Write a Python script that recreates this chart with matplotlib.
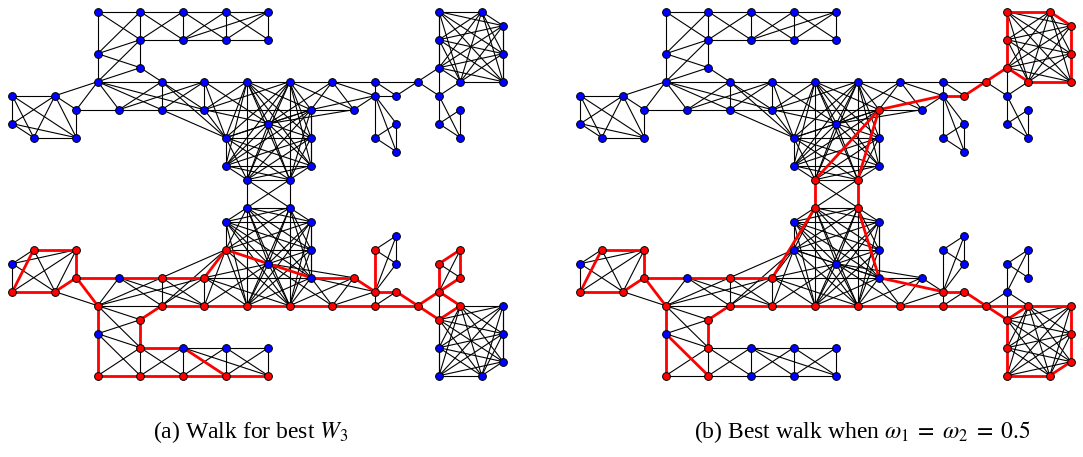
import matplotlib
matplotlib.use("Agg")
import matplotlib.pyplot as plt

plt.rcParams['font.family'] = ['Liberation Serif', 'DejaVu Serif']
plt.rcParams['mathtext.fontset'] = 'stix'

# nodes of the upper half as (column, row); the lower half is its mirror image (row -> 26 - row)
top_nodes = [(4, 0), (6, 0), (8, 0), (10, 0), (12, 0), (6, 2), (8, 2), (10, 2), (12, 2),
             (4, 3), (6, 4), (4, 5),
             (0, 6), (2, 6), (0, 8), (1, 9), (3, 9), (3, 7),
             (5, 7), (7, 5), (7, 7), (9, 5), (9, 7),
             (11, 5), (13, 5), (14, 7), (12, 8), (10, 9), (14, 9), (10, 11), (14, 11), (11, 12), (13, 12),
             (15, 5), (16, 7), (17, 5), (17, 6), (18, 6), (19, 5),
             (17, 9), (18, 8), (18, 10),
             (20, 6), (21, 7), (20, 8), (21, 9),
             (20, 0), (22, 0), (23, 1), (20, 2), (23, 3), (20, 4), (21, 5), (23, 5)]

top_edges = [
    # upper corridor
    ((4, 0), (6, 0)), ((6, 0), (8, 0)), ((8, 0), (10, 0)), ((10, 0), (12, 0)),
    ((6, 2), (8, 2)), ((8, 2), (10, 2)), ((10, 2), (12, 2)),
    ((4, 0), (4, 3)), ((4, 3), (4, 5)), ((6, 0), (6, 2)), ((8, 0), (8, 2)), ((10, 0), (10, 2)),
    ((12, 0), (12, 2)), ((6, 2), (6, 4)),
    ((4, 0), (6, 2)), ((6, 0), (4, 3)), ((6, 0), (8, 2)), ((8, 0), (6, 2)), ((8, 0), (10, 2)),
    ((8, 2), (10, 0)), ((8, 2), (12, 0)), ((10, 0), (12, 2)), ((10, 2), (12, 0)),
    ((4, 3), (6, 2)), ((4, 3), (6, 4)), ((4, 5), (6, 2)), ((4, 5), (6, 4)), ((6, 4), (7, 5)),
    # left room
    ((0, 6), (2, 6)), ((0, 6), (0, 8)), ((0, 6), (1, 9)), ((0, 6), (3, 9)), ((2, 6), (0, 8)),
    ((2, 6), (1, 9)), ((2, 6), (3, 9)), ((0, 8), (1, 9)), ((0, 8), (3, 9)), ((1, 9), (3, 9)),
    ((3, 7), (3, 9)), ((2, 6), (3, 7)), ((2, 6), (4, 5)),
    # long corridor, left part
    ((3, 7), (5, 7)), ((5, 7), (7, 7)), ((7, 7), (9, 7)), ((4, 5), (3, 7)), ((4, 5), (5, 7)),
    ((4, 5), (7, 5)), ((4, 5), (7, 7)), ((4, 5), (9, 7)), ((5, 7), (7, 5)), ((5, 7), (9, 5)),
    ((7, 5), (7, 7)), ((7, 5), (9, 5)), ((7, 5), (9, 7)), ((7, 7), (9, 5)), ((7, 5), (10, 9)),
    ((7, 7), (10, 9)), ((9, 5), (9, 7)), ((9, 5), (11, 5)), ((9, 5), (10, 9)), ((9, 5), (12, 8)),
    ((9, 7), (10, 9)), ((9, 7), (11, 5)), ((9, 7), (12, 8)), ((9, 7), (14, 7)), ((9, 7), (13, 5)),
    # long corridor, right part
    ((13, 5), (15, 5)), ((15, 5), (17, 5)), ((17, 5), (19, 5)), ((15, 5), (14, 7)), ((15, 5), (16, 7)),
    ((15, 5), (12, 8)), ((15, 5), (17, 6)), ((14, 7), (16, 7)), ((16, 7), (17, 6)), ((14, 7), (17, 6)),
    ((13, 5), (16, 7)), ((12, 8), (16, 7)), ((17, 5), (17, 6)), ((17, 6), (18, 6)), ((17, 5), (18, 6)),
    ((18, 6), (19, 5)),
    ((17, 6), (17, 9)), ((17, 6), (18, 8)), ((17, 6), (18, 10)), ((17, 9), (18, 8)), ((17, 9), (18, 10)),
    ((18, 8), (18, 10)),
    ((19, 5), (20, 4)), ((19, 5), (20, 6)), ((20, 4), (20, 6)), ((20, 6), (20, 8)), ((20, 6), (21, 9)),
    ((20, 8), (21, 7)), ((20, 8), (21, 9)), ((21, 7), (21, 9)), ((20, 6), (21, 5)),
]

# rooms where every pair of nodes is linked
top_cliques = [
    [(11, 5), (13, 5), (14, 7), (12, 8), (10, 9), (14, 9), (10, 11), (14, 11), (11, 12), (13, 12)],
    [(20, 0), (22, 0), (23, 1), (20, 2), (23, 3), (20, 4), (21, 5), (23, 5)],
]

# links between the two halves
middle_edges = [((11, 12), (11, 14)), ((13, 12), (13, 14)), ((11, 12), (13, 14)), ((13, 12), (11, 14))]

# walk of panel (a)
walk_a_edges = [((1, 17), (3, 17)), ((1, 17), (0, 20)), ((0, 20), (2, 20)), ((2, 20), (3, 19)),
                ((3, 17), (3, 19)), ((3, 19), (7, 19)), ((7, 19), (9, 19)), ((3, 19), (4, 21)),
                ((4, 21), (4, 26)), ((4, 26), (6, 26)), ((6, 26), (8, 26)), ((8, 26), (10, 26)),
                ((10, 26), (12, 26)), ((6, 24), (6, 22)), ((6, 22), (7, 21)), ((6, 24), (8, 24)),
                ((8, 24), (10, 26)), ((7, 21), (9, 21)), ((9, 21), (11, 21)), ((11, 21), (13, 21)),
                ((13, 21), (15, 21)), ((15, 21), (17, 21)), ((17, 21), (19, 21)),
                ((9, 19), (10, 17)), ((10, 17), (14, 19)), ((14, 19), (16, 19)), ((16, 19), (17, 20)),
                ((17, 20), (17, 17)), ((17, 20), (18, 20)), ((18, 20), (19, 21)), ((19, 21), (20, 20)),
                ((19, 21), (20, 22)), ((20, 20), (21, 19)), ((20, 20), (20, 18)), ((20, 18), (21, 17)),
                ((21, 17), (21, 19)), ((20, 20), (21, 21)), ((21, 21), (20, 22))]
walk_a_nodes = [(1, 17), (3, 17), (0, 20), (2, 20), (3, 19), (7, 19), (9, 19), (10, 17), (4, 21),
                (7, 21), (9, 21), (11, 21), (13, 21), (15, 21), (17, 21), (19, 21), (6, 22), (6, 24),
                (4, 26), (6, 26), (8, 26), (10, 26), (12, 26), (16, 19), (17, 17), (17, 20), (18, 20),
                (20, 18), (21, 17), (21, 19), (20, 20), (21, 21), (20, 22)]

# walk of panel (b)
walk_b_edges = [((1, 17), (3, 17)), ((1, 17), (0, 20)), ((0, 20), (2, 20)), ((2, 20), (3, 19)),
                ((3, 17), (3, 19)), ((3, 19), (9, 19)), ((3, 19), (4, 21)), ((4, 21), (4, 26)),
                ((4, 23), (6, 26)), ((6, 22), (6, 24)), ((6, 22), (7, 21)),
                ((7, 21), (9, 21)), ((9, 21), (11, 21)), ((11, 21), (13, 21)), ((13, 21), (15, 21)),
                ((15, 21), (17, 21)), ((17, 21), (19, 21)), ((19, 21), (20, 22)), ((19, 21), (21, 21)),
                ((9, 19), (11, 14)), ((11, 14), (11, 12)), ((13, 14), (13, 12)), ((11, 12), (14, 7)),
                ((13, 12), (14, 7)), ((14, 7), (17, 6)), ((17, 6), (18, 6)), ((18, 6), (19, 5)),
                ((19, 5), (20, 4)),
                ((13, 14), (14, 19)), ((14, 19), (17, 20)), ((17, 20), (18, 20)), ((18, 20), (19, 21)),
                ((20, 0), (22, 0)), ((22, 0), (23, 1)), ((23, 1), (23, 5)), ((23, 5), (21, 5)),
                ((21, 5), (20, 4)), ((20, 4), (20, 0)),
                ((20, 22), (20, 26)), ((20, 26), (22, 26)), ((22, 26), (23, 25)), ((23, 25), (23, 21)),
                ((23, 21), (21, 21)), ((21, 21), (20, 22))]
walk_b_nodes = [(1, 17), (3, 17), (0, 20), (2, 20), (3, 19), (7, 19), (9, 19), (4, 21), (4, 26),
                (6, 22), (6, 24), (6, 26), (7, 21), (9, 21), (11, 21), (13, 21), (15, 21), (17, 21),
                (19, 21), (11, 12), (13, 12), (11, 14), (13, 14), (14, 7), (18, 6), (19, 5), (20, 4),
                (20, 0), (22, 0), (23, 1), (20, 2), (23, 3), (21, 5), (23, 5), (17, 20), (18, 20),
                (20, 22), (21, 21), (23, 21), (23, 23), (23, 25), (20, 24), (20, 26), (22, 26)]


def mirror(p):
    return (p[0], 26 - p[1])


nodes = top_nodes + [mirror(p) for p in top_nodes]
edges = []
for a, b in top_edges:
    edges.append((a, b))
    edges.append((mirror(a), mirror(b)))
for room in top_cliques:
    for k in range(len(room)):
        for m in range(k + 1, len(room)):
            edges.append((room[k], room[m]))
            edges.append((mirror(room[k]), mirror(room[m])))
edges += middle_edges


def draw_graph(ax, red_nodes, red_edges):
    for a, b in edges:
        ax.plot([a[0], b[0]], [a[1], b[1]], color='black', lw=0.8, zorder=1)
    for a, b in red_edges:
        ax.plot([a[0], b[0]], [a[1], b[1]], color='#ff0000', lw=2.0, zorder=2)
    for p in nodes:
        c = '#ff0000' if p in red_nodes else '#0000ff'
        ax.plot(p[0], p[1], 'o', color=c, markersize=5.6, markeredgecolor='black',
                markeredgewidth=0.7, zorder=3)
    ax.set_xlim(-0.5, 23.5)
    ax.set_ylim(26.5, -0.5)
    ax.axis('off')


W, H = 1083, 457
fig = plt.figure(figsize=(W / 100, H / 100), dpi=100)

ax1 = fig.add_axes([1.7 / W, 1 - (4.7 + 378) / H, 512 / W, 378 / H])
draw_graph(ax1, walk_a_nodes, walk_a_edges)
ax2 = fig.add_axes([(1.7 + 568) / W, 1 - (4.7 + 378) / H, 512 / W, 378 / H])
draw_graph(ax2, walk_b_nodes, walk_b_edges)

fig.text(251 / W, 1 - 432 / H, r'(a) Walk for best $W_3$', ha='center', va='center', fontsize=17)
fig.text(862 / W, 1 - 432 / H, r'(b) Best walk when $\omega_1\;=\;\omega_2\;=\;0.5$', ha='center',
         va='center', fontsize=17)

fig.savefig('out.png', dpi=100)
